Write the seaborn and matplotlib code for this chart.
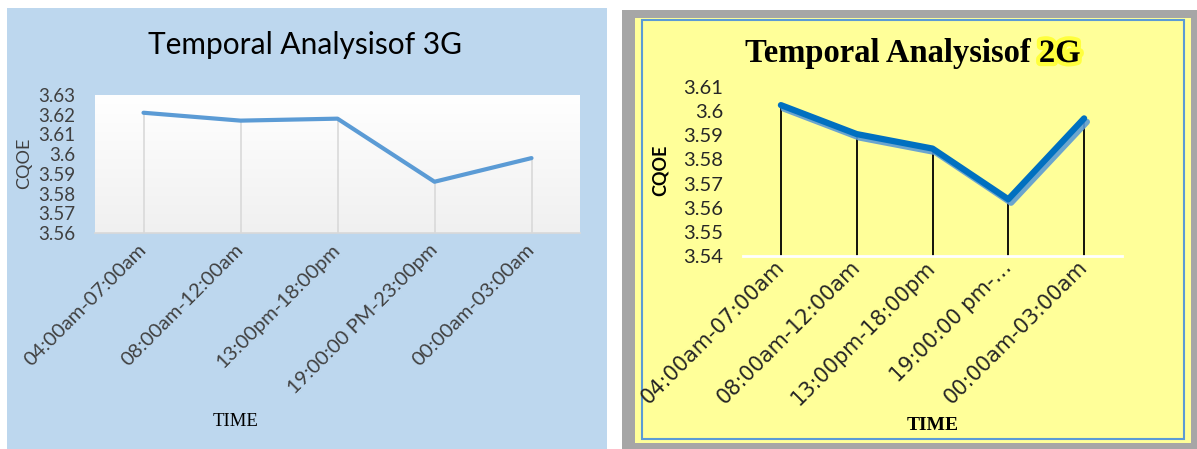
import numpy as np
import matplotlib
matplotlib.use("Agg")
import matplotlib.pyplot as plt
import matplotlib.patheffects as pe
from matplotlib.patches import Rectangle
from matplotlib.colors import LinearSegmentedColormap
import seaborn as sns

# ---- data -------------------------------------------------------------
time_slots_3g = ["04:00am-07:00am", "08:00am-12:00am", "13:00pm-18:00pm",
                 "19:00:00 PM-23:00pm", "00:00am-03:00am"]
cqoe_3g = [3.621, 3.617, 3.618, 3.586, 3.598]
yticks_3g = [3.56, 3.57, 3.58, 3.59, 3.60, 3.61, 3.62, 3.63]

time_slots_2g = ["04:00am-07:00am", "08:00am-12:00am", "13:00pm-18:00pm",
                 "19:00:00 pm-\u2026", "00:00am-03:00am"]
cqoe_2g = [3.6025, 3.5905, 3.5845, 3.5635, 3.597]
yticks_2g = [3.54, 3.55, 3.56, 3.57, 3.58, 3.59, 3.60, 3.61]

title_3g = "Temporal Analysisof 3G"
title_2g_head = "Temporal Analysisof "
title_2g_tail = "2G"
ylabel = "CQOE"
xlabel = "TIME"

# ---- figure setup -----------------------------------------------------
sns.set_theme(style="white")
plt.rcParams["font.family"] = ["Lato", "DejaVu Sans"]

W, H = 1197, 449
fig = plt.figure(figsize=(W / 100, H / 100), dpi=100)
fig.patch.set_facecolor("white")
PX = 72 / fig.dpi  # points per pixel


def rect(x0, y0, x1, y1):
    """Pixel box (top-left origin) -> figure fraction [l, b, w, h]."""
    return [x0 / W, 1 - y1 / H, (x1 - x0) / W, (y1 - y0) / H]


def fpt(x, y):
    return x / W, 1 - y / H


def add_box(x0, y0, x1, y1, **kw):
    l, b, w, h = rect(x0, y0, x1, y1)
    fig.add_artist(Rectangle((l, b), w, h, transform=fig.transFigure, **kw))


# panel backgrounds
add_box(7, 8, 607, 452, facecolor="#BDD7EE", edgecolor="none", zorder=0)
add_box(622, 10, 1200, 452, facecolor="#A6A6A6", edgecolor="none", zorder=0)
add_box(635, 18, 1191, 443, facecolor="#FFFF99", edgecolor="none", zorder=0)
add_box(642, 20, 1184, 439, facecolor="none", edgecolor="#5B9BD5",
        linewidth=1.5, zorder=0)

# ---- left chart: 3G ---------------------------------------------------
left_box = rect(95, 95, 580, 233)
bg = fig.add_axes(left_box, zorder=1)
grad = LinearSegmentedColormap.from_list("plotarea", ["#FFFFFF", "#F0F0F0"])
bg.imshow(np.linspace(0, 1, 256).reshape(-1, 1), cmap=grad, aspect="auto",
          extent=[0, 1, 0, 1])
bg.axis("off")

ax1 = fig.add_axes(left_box, zorder=2)
ax1.set_facecolor("none")
ax1.vlines(time_slots_3g, yticks_3g[0], cqoe_3g, color="#D9D9D9", lw=1.2,
           zorder=1)
sns.lineplot(x=time_slots_3g, y=cqoe_3g, ax=ax1, color="#5B9BD5", lw=3,
             sort=False, zorder=3)
ax1.set_xlim(-0.5, len(time_slots_3g) - 0.5)
ax1.set_ylim(yticks_3g[0], yticks_3g[-1])
ax1.set_yticks(yticks_3g)
ax1.set_yticklabels([f"{v:g}" for v in yticks_3g], fontsize=13.5,
                    color="#404040")
ax1.set_xticks(range(len(time_slots_3g)))
ax1.set_xticklabels(time_slots_3g, rotation=45, ha="right", va="center",
                    rotation_mode="anchor", fontsize=14.5, color="#404040")
ax1.tick_params(axis="both", length=0)
ax1.tick_params(axis="y", pad=20 * PX)
ax1.tick_params(axis="x", pad=10)
ax1.set_xlabel("")
ax1.set_ylabel("")
for side in ("top", "right", "left"):
    ax1.spines[side].set_visible(False)
ax1.spines["bottom"].set_color("#D9D9D9")
ax1.spines["bottom"].set_linewidth(1.2)
ax1.grid(False)

fig.text(*fpt(305, 45), title_3g, ha="center", va="center", fontsize=21.5,
         color="#000000")
fig.text(*fpt(24, 163), ylabel, ha="center", va="center", rotation=90,
         fontsize=13, color="#404040")
fig.text(*fpt(236, 422), xlabel, ha="center", va="center", fontsize=13.5,
         family=["Liberation Serif", "DejaVu Serif"], color="#000000")

# ---- right chart: 2G --------------------------------------------------
ax2 = fig.add_axes(rect(743, 87, 1122, 256), zorder=2)
ax2.set_facecolor("none")
ax2.vlines(time_slots_2g, yticks_2g[0], cqoe_2g, color="#000000", lw=1.3,
           zorder=1)
sns.lineplot(x=time_slots_2g, y=cqoe_2g, ax=ax2, color="#0070C0", lw=4.5,
             sort=False, zorder=3,
             path_effects=[pe.SimpleLineShadow(offset=(2, -2.5),
                                               shadow_color="#5B9BD5",
                                               alpha=0.9),
                           pe.Normal()])
ax2.set_xlim(-0.5, len(time_slots_2g) - 0.5)
ax2.set_ylim(yticks_2g[0], yticks_2g[-1])
ax2.set_yticks(yticks_2g)
ax2.set_yticklabels([f"{v:g}" for v in yticks_2g], fontsize=14.5,
                    color="#262626")
ax2.set_xticks(range(len(time_slots_2g)))
ax2.set_xticklabels(time_slots_2g, rotation=45, ha="right", va="center",
                    rotation_mode="anchor", fontsize=15,
                    family=["DejaVu Sans"], color="#262626")
ax2.tick_params(axis="both", length=0)
ax2.tick_params(axis="y", pad=20 * PX)
ax2.tick_params(axis="x", pad=6)
ax2.set_xlabel("")
ax2.set_ylabel("")
for side in ("top", "right", "left"):
    ax2.spines[side].set_visible(False)
ax2.spines["bottom"].set_color("white")
ax2.spines["bottom"].set_linewidth(2)
ax2.grid(False)

serif_bold = dict(family=["Liberation Serif", "DejaVu Serif"],
                  fontweight="bold", fontsize=23.5, color="#000000")
title_baseline = 62
head = fig.text(*fpt(745, title_baseline), title_2g_head, ha="left",
                va="baseline", **serif_bold)
fig.canvas.draw()
ext = head.get_window_extent()
tail_x = fig.transFigure.inverted().transform((ext.x1, 0))[0]
tail = fig.text(tail_x, fpt(0, title_baseline)[1], title_2g_tail, ha="left",
                va="baseline", **serif_bold)
tail.set_path_effects([pe.withStroke(linewidth=6, foreground="#FFFF33",
                                     alpha=0.9)])

fig.text(*fpt(660, 170), ylabel, ha="center", va="center", rotation=90,
         fontsize=13, fontweight="bold", color="#000000")
fig.text(*fpt(933, 425), xlabel, ha="center", va="center", fontsize=14,
         family=["Liberation Serif", "DejaVu Serif"], fontweight="bold",
         color="#000000", zorder=5)

fig.savefig("out.png", dpi=100, facecolor=fig.get_facecolor())
